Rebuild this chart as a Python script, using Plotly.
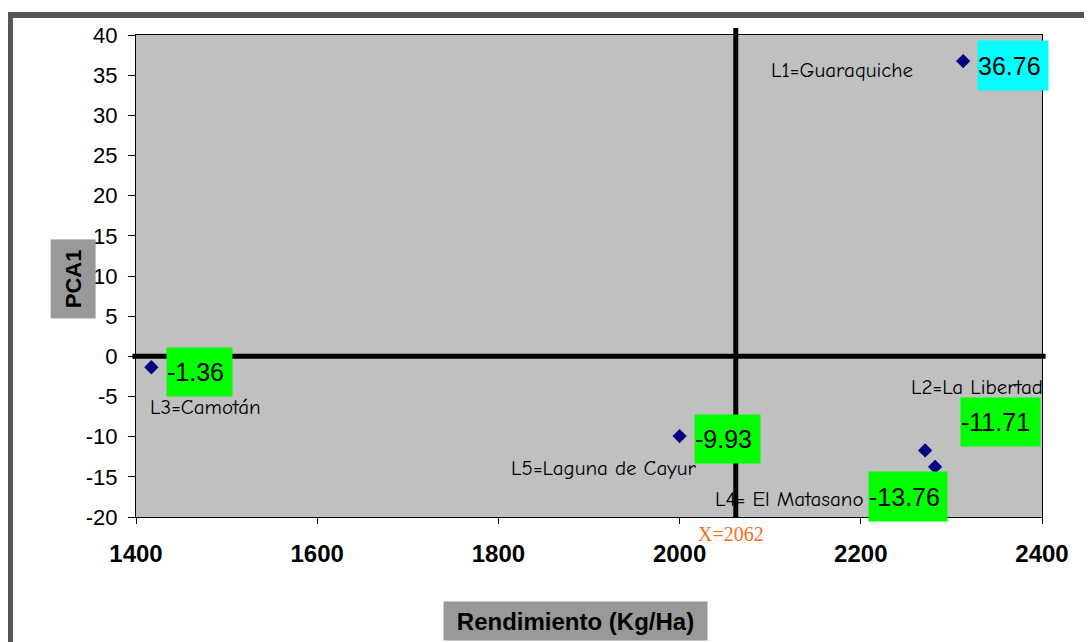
import plotly.graph_objects as go

# Data
names = ["L1=Guaraquiche", "L2=La Libertad", "L3=Camotán", "L4= El Matasano", "L5=Laguna de Cayur"]
rendimiento = [2313, 2271, 1417, 2282, 2000]
pca1 = [36.76, -11.71, -1.36, -13.76, -9.93]
value_labels = ["36.76", "-11.71", "-1.36", "-13.76", "-9.93"]
x_mean = 2062
x_ticks = [1400, 1600, 1800, 2000, 2200, 2400]
y_ticks = [40, 35, 30, 25, 20, 15, 10, 5, 0, -5, -10, -15, -20]
y_tick_labels = ["40", "35", "30", "25", "20", "15", "10", "5", "0", "-5", "-10", "-15", "-20"]

# Styling (positions of labels relative to their points)
box_colors = ["#00FFFF", "#00FF00", "#00FF00", "#00FF00", "#00FF00"]
box_sizes = [(70, 49), (79, 48), (65, 48), (78, 49), (65, 48)]
box_shift = [(14, -4), (35, 28), (15, -5), (-67, -30), (14, -3)]
name_anchor = ["right", "right", "left", "right", "right"]
name_shift = [(-48, -9), (120, 63), (-3, -40), (-69, -32), (18, -32)]

comic = "Comic Sans MS, Comic Neue, Noto Sans, DejaVu Sans"
arial = "Arial, Liberation Sans"

fig = go.Figure()
fig.add_trace(go.Scatter(
    x=rendimiento, y=pca1, mode="markers",
    marker=dict(symbol="diamond", size=11, color="#000080"),
    showlegend=False, hoverinfo="skip",
))

annotations = []
for i in range(len(names)):
    w, h = box_sizes[i]
    dx, dy = box_shift[i]
    annotations.append(dict(
        x=rendimiento[i], y=pca1[i], xref="x", yref="y",
        text=value_labels[i], showarrow=False,
        xanchor="left", yanchor="middle", xshift=dx, yshift=dy,
        width=w, height=h, align="left", valign="middle",
        bgcolor=box_colors[i], borderpad=0,
        font=dict(family=arial, size=25, color="black"),
    ))
    nx, ny = name_shift[i]
    annotations.append(dict(
        x=rendimiento[i], y=pca1[i], xref="x", yref="y",
        text=names[i], showarrow=False,
        xanchor=name_anchor[i], yanchor="middle", xshift=nx, yshift=ny,
        font=dict(family=comic, size=21, color="black"),
    ))

annotations.append(dict(
    x=x_mean, y=-0.035, xref="x", yref="paper", text="X=" + str(x_mean),
    showarrow=False, xanchor="center", yanchor="middle", xshift=-5,
    font=dict(family="Times New Roman, Liberation Serif", size=20, color="#FF6A1A"),
))
annotations.append(dict(
    x=-0.0695, y=0.494, xref="paper", yref="paper", text="<b>PCA1</b>",
    showarrow=False, textangle=-90, xanchor="center", yanchor="middle",
    width=78, height=44, bgcolor="#999999", borderpad=0,
    font=dict(family=arial, size=22, color="black"),
))
annotations.append(dict(
    x=0.4846, y=-0.2158, xref="paper", yref="paper", text="<b>Rendimiento (Kg/Ha)</b>",
    showarrow=False, xanchor="center", yanchor="middle",
    width=263, height=38, bgcolor="#999999", borderpad=0,
    font=dict(family=arial, size=24, color="black"),
))

shapes = [
    # outer frame (top and left)
    dict(type="rect", xref="paper", yref="paper", x0=-0.1413, x1=1.06, y0=1.0353, y1=1.0477,
         fillcolor="#555555", line=dict(width=0), layer="above"),
    dict(type="rect", xref="paper", yref="paper", x0=-0.1424, x1=-0.1358, y0=-0.3, y1=1.0477,
         fillcolor="#555555", line=dict(width=0), layer="above"),
    # mean lines
    dict(type="line", xref="x", yref="paper", x0=x_mean, x1=x_mean, y0=0, y1=1.0145,
         line=dict(color="black", width=5), layer="above"),
    dict(type="line", xref="paper", yref="y", x0=-0.004, x1=1.004, y0=0, y1=0,
         line=dict(color="black", width=5), layer="above"),
]

fig.update_layout(
    width=1092, height=642,
    margin=dict(l=128, r=58, t=27, b=133),
    paper_bgcolor="white", plot_bgcolor="#C0C0C0",
    annotations=annotations, shapes=shapes,
    xaxis=dict(range=[1400, 2400], tickvals=x_ticks, showgrid=False, zeroline=False,
               showline=True, linecolor="black", linewidth=1, mirror=True,
               ticks="outside", ticklen=6, tickcolor="black",
               ticklabelstandoff=9,
               tickfont=dict(family=arial, size=24, color="black", weight="bold")),
    yaxis=dict(range=[-20, 40], tickvals=y_ticks, ticktext=y_tick_labels,
               showgrid=False, zeroline=False,
               showline=True, linecolor="black", linewidth=1, mirror=True,
               ticks="outside", ticklen=7, tickcolor="black",
               ticklabelstandoff=6,
               tickfont=dict(family=arial, size=22, color="black")),
)

fig.write_html("out.html")
